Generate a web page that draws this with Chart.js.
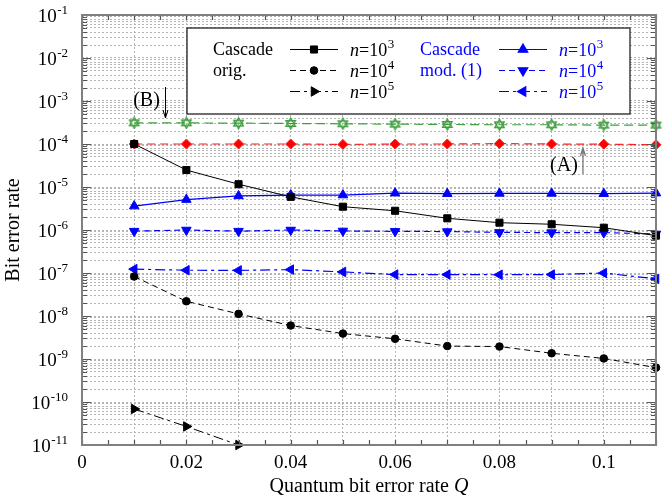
<!DOCTYPE html>
<html>
<head>
<meta charset="utf-8">
<script src="https://cdn.jsdelivr.net/npm/chart.js@4.4.0/dist/chart.umd.min.js"></script>
<style>
  html, body { margin: 0; padding: 0; background: #fff; }
</style>
</head>
<body>
<canvas id="c" width="664" height="501"></canvas>
<script>
// quantum bit error rate Q
const qber = [0.01, 0.02, 0.03, 0.04, 0.05, 0.06, 0.07, 0.08, 0.09, 0.10, 0.11];

// Cascade orig.
const origN3 = [1.0e-4, 2.48e-5, 1.16e-5, 5.9e-6, 3.48e-6, 2.8e-6, 1.87e-6, 1.48e-6, 1.36e-6, 1.13e-6, 7.4e-7];
const origN4 = [8.3e-8, 2.2e-8, 1.12e-8, 6.0e-9, 3.9e-9, 2.95e-9, 2.0e-9, 1.95e-9, 1.36e-9, 1.03e-9, 6.3e-10];
const origN5 = [6.9e-11, 2.7e-11, 1.0e-11];

// Cascade mod. (1)
const modN3 = [3.6e-6, 5.1e-6, 6.2e-6, 6.5e-6, 6.5e-6, 7.2e-6, 7.0e-6, 7.1e-6, 7.1e-6, 7.0e-6, 7.2e-6];
const modN4 = [9.4e-7, 1.0e-6, 9.4e-7, 1.0e-6, 9.5e-7, 9.3e-7, 9.2e-7, 8.8e-7, 8.7e-7, 8.7e-7, 8.1e-7];
const modN5 = [1.23e-7, 1.16e-7, 1.15e-7, 1.2e-7, 1.06e-7, 9.2e-8, 9.2e-8, 9.1e-8, 9.2e-8, 1.0e-7, 7.3e-8];

// reference curves (A) and (B)
const curveA = [1.0e-4, 1.0e-4, 1.0e-4, 1.0e-4, 9.8e-5, 1.0e-4, 1.0e-4, 1.02e-4, 1.0e-4, 9.9e-5, 9.6e-5];
const curveB = [3.1e-4, 3.1e-4, 3.05e-4, 3.0e-4, 2.95e-4, 2.9e-4, 2.85e-4, 2.8e-4, 2.8e-4, 2.75e-4, 2.75e-4];

const seriesNames = ['n=10^3', 'n=10^4', 'n=10^5'];
const xTickLabels = ['0', '0.02', '0.04', '0.06', '0.08', '0.1'];
const yExponents = [-11, -10, -9, -8, -7, -6, -5, -4, -3, -2, -1];

const serif = '"Liberation Serif", "Times New Roman", serif';
const blue = '#0000ff';

// open hexagram marker for curve (B)
function hexagram(color) {
    const c = document.createElement('canvas');
    c.width = 13; c.height = 13;
    const g = c.getContext('2d');
    g.strokeStyle = color;
    g.lineWidth = 1.3;
    const r = 5.5, cx = 6.5, cy = 6.5;
    for (const off of [-Math.PI / 2, Math.PI / 2]) {
        g.beginPath();
        for (let k = 0; k < 3; k++) {
            const a = off + k * 2 * Math.PI / 3;
            const px = cx + r * Math.cos(a), py = cy + r * Math.sin(a);
            k ? g.lineTo(px, py) : g.moveTo(px, py);
        }
        g.closePath();
        g.stroke();
    }
    return c;
}

function pts(vals) {
    return vals.map((v, i) => ({ x: qber[i], y: v }));
}

const dotted = [10, 4, 3, 4];

const datasets = [
    { label: 'orig n3', data: pts(origN3), borderColor: '#000', backgroundColor: '#000', borderWidth: 1,
      pointStyle: 'rect', pointRadius: 5, borderDash: [] },
    { label: 'orig n4', data: pts(origN4), borderColor: '#000', backgroundColor: '#000', borderWidth: 1,
      pointStyle: 'circle', pointRadius: 3.8, borderDash: [6, 4] },
    { label: 'orig n5', data: pts(origN5), borderColor: '#000', backgroundColor: '#000', borderWidth: 1,
      pointStyle: 'triangle', pointRotation: 90, pointRadius: 5.5, borderDash: dotted },
    { label: 'mod n3', data: pts(modN3), borderColor: blue, backgroundColor: blue, borderWidth: 1.2,
      pointStyle: 'triangle', pointRotation: 0, pointRadius: 5.5, borderDash: [] },
    { label: 'mod n4', data: pts(modN4), borderColor: blue, backgroundColor: blue, borderWidth: 1.2,
      pointStyle: 'triangle', pointRotation: 180, pointRadius: 5.5, borderDash: [6, 4] },
    { label: 'mod n5', data: pts(modN5), borderColor: blue, backgroundColor: blue, borderWidth: 1.2,
      pointStyle: 'triangle', pointRotation: -90, pointRadius: 5.5, borderDash: dotted },
    { label: 'A', data: pts(curveA), borderColor: '#ff2020', backgroundColor: '#ff0000', borderWidth: 1.2,
      pointStyle: 'rectRot', pointRadius: 5, borderDash: [8, 5] },
    { label: 'B', data: pts(curveB), borderColor: '#3f9f3f', backgroundColor: '#3f9f3f', borderWidth: 1.2,
      pointStyle: hexagram('#3f9f3f'), pointRadius: 6, borderDash: [9, 5] }
];
datasets.forEach(d => {
    d.clip = false;
    d.tension = 0;
    d.fill = false;
    d.pointBorderWidth = 1;
    d.pointHoverRadius = d.pointRadius;
});

// text with superscript, returns width; align 'left' or 'right'
function powText(ctx, x, y, italicPre, base, exp, size, color, align) {
    const fBase = size + 'px ' + serif;
    const fIt = 'italic ' + size + 'px ' + serif;
    const fSup = Math.round(size * 0.7) + 'px ' + serif;
    ctx.font = fIt; const wPre = italicPre ? ctx.measureText(italicPre).width : 0;
    ctx.font = fBase; const wBase = ctx.measureText(base).width;
    ctx.font = fSup; const wExp = ctx.measureText(exp).width;
    const total = wPre + wBase + wExp + 0.5;
    let cx = align === 'right' ? x - total : x;
    ctx.fillStyle = color;
    ctx.textAlign = 'left';
    ctx.textBaseline = 'alphabetic';
    if (italicPre) { ctx.font = fIt; ctx.fillText(italicPre, cx, y); cx += wPre; }
    ctx.font = fBase; ctx.fillText(base, cx, y); cx += wBase + 0.5;
    ctx.font = fSup; ctx.fillText(exp, cx, y - size * 0.42);
    return total;
}

const decor = {
    id: 'decor',
    afterDraw(chart) {
        const { ctx, chartArea: a } = chart;
        const xs = chart.scales.x, ys = chart.scales.y;
        ctx.save();

        // tick marks on all four sides, pointing inwards
        ctx.strokeStyle = '#555';
        ctx.lineWidth = 1.2;
        ctx.beginPath();
        ys.ticks.forEach(t => {
            const py = Math.round(ys.getPixelForValue(t.value)) + 0.5;
            const major = Math.abs(Math.log10(t.value) - Math.round(Math.log10(t.value))) < 1e-6;
            const len = major ? 9 : 5;
            ctx.moveTo(a.left, py); ctx.lineTo(a.left + len, py);
            ctx.moveTo(a.right, py); ctx.lineTo(a.right - len, py);
        });
        xs.ticks.forEach(t => {
            const px = Math.round(xs.getPixelForValue(t.value)) + 0.5;
            ctx.moveTo(px, a.bottom); ctx.lineTo(px, a.bottom - 5);
            ctx.moveTo(px, a.top); ctx.lineTo(px, a.top + 5);
        });
        ctx.stroke();

        // frame
        ctx.strokeStyle = '#808080';
        ctx.lineWidth = 2;
        ctx.strokeRect(a.left, a.top, a.right - a.left, a.bottom - a.top);

        // y tick labels 10^k
        yExponents.forEach(e => {
            const py = ys.getPixelForValue(Math.pow(10, e));
            powText(ctx, 68, py + 6.5, '', '10', String(e), 19, '#000', 'right');
        });

        // axis titles
        ctx.fillStyle = '#000';
        ctx.textBaseline = 'alphabetic';
        ctx.font = '20px ' + serif;
        const t1 = 'Quantum bit error rate ';
        const w1 = ctx.measureText(t1).width;
        ctx.font = 'italic 20px ' + serif;
        const w2 = ctx.measureText('Q').width;
        const sx = (a.left + a.right) / 2 - (w1 + w2) / 2;
        ctx.font = '20px ' + serif;
        ctx.textAlign = 'left';
        ctx.fillText(t1, sx, 492);
        ctx.font = 'italic 20px ' + serif;
        ctx.fillText('Q', sx + w1, 492);

        ctx.save();
        ctx.translate(19, (a.top + a.bottom) / 2);
        ctx.rotate(-Math.PI / 2);
        ctx.font = '20px ' + serif;
        ctx.textAlign = 'center';
        ctx.fillText('Bit error rate', 0, 0);
        ctx.restore();

        // annotations (A) and (B)
        ctx.font = '20px ' + serif;
        ctx.textAlign = 'center';
        ctx.fillStyle = '#000';
        const bx = xs.getPixelForValue(0.016);
        ctx.fillText('(B)', bx - 19, 106);
        ctx.strokeStyle = '#000';
        ctx.lineWidth = 1;
        ctx.beginPath();
        ctx.moveTo(bx, 87); ctx.lineTo(bx, 118);
        ctx.moveTo(bx - 2.5, 110); ctx.lineTo(bx, 118); ctx.lineTo(bx + 2.5, 110);
        ctx.stroke();

        const ax = xs.getPixelForValue(0.096);
        ctx.fillText('(A)', ax - 19, 171);
        ctx.strokeStyle = '#777';
        ctx.lineWidth = 1.3;
        ctx.beginPath();
        ctx.moveTo(ax, 174); ctx.lineTo(ax, 148);
        ctx.moveTo(ax - 2.5, 156); ctx.lineTo(ax, 148); ctx.lineTo(ax + 2.5, 156);
        ctx.stroke();

        // legend box
        ctx.fillStyle = '#fff';
        ctx.fillRect(187, 28, 443, 86);
        ctx.strokeStyle = '#222';
        ctx.lineWidth = 1.3;
        ctx.strokeRect(187, 28, 443, 86);

        const rows = [49, 70, 91];
        ctx.font = '18px ' + serif;
        ctx.textAlign = 'left';
        ctx.fillStyle = '#000';
        ctx.fillText('Cascade', 213, rows[0] + 6);
        ctx.fillText('orig.', 213, rows[1] + 6);
        ctx.fillStyle = blue;
        ctx.fillText('Cascade', 420, rows[0] + 6);
        ctx.fillText('mod. (1)', 420, rows[1] + 6);

        const groups = [{ x1: 290, x2: 338, lx: 350, color: '#000', start: 0 },
                        { x1: 499, x2: 547, lx: 559, color: blue, start: 3 }];
        groups.forEach(gr => {
            for (let k = 0; k < 3; k++) {
                const ds = chart.data.datasets[gr.start + k];
                const yy = rows[k] + 0.5;
                ctx.strokeStyle = ds.borderColor;
                ctx.lineWidth = ds.borderWidth;
                ctx.setLineDash(ds.borderDash);
                ctx.beginPath();
                ctx.moveTo(gr.x1, yy); ctx.lineTo(gr.x2, yy);
                ctx.stroke();
                ctx.setLineDash([]);
                ctx.fillStyle = ds.backgroundColor;
                Chart.helpers.drawPoint(ctx, {
                    pointStyle: ds.pointStyle, rotation: ds.pointRotation || 0,
                    radius: ds.pointRadius, borderWidth: 1
                }, (gr.x1 + gr.x2) / 2, yy);
                const nm = seriesNames[k].split('^');
                powText(ctx, gr.lx, rows[k] + 6.5, 'n', nm[0].slice(1), nm[1], 18, gr.color, 'left');
            }
        });

        ctx.restore();
    }
};

new Chart(document.getElementById('c'), {
    type: 'line',
    data: { datasets },
    options: {
        responsive: false,
        animation: false,
        devicePixelRatio: 1,
        layout: { padding: { top: 15, right: 8, left: 0, bottom: 0 } },
        plugins: { legend: { display: false }, tooltip: { enabled: false } },
        scales: {
            x: {
                type: 'linear',
                min: 0,
                max: 0.11,
                afterBuildTicks: s => {
                    s.ticks = [];
                    for (let i = 0; i <= 22; i++) s.ticks.push({ value: i * 0.005 });
                },
                afterFit: s => { s.height = 56; },
                ticks: {
                    autoSkip: false,
                    maxRotation: 0,
                    padding: 7,
                    color: '#000',
                    font: { family: serif, size: 19 },
                    callback: (v, i) => (i % 4 === 0 ? xTickLabels[i / 4] : '')
                },
                grid: {
                    drawTicks: false,
                    lineWidth: 1,
                    color: c => (c.index % 2 === 0 && c.index > 0 && c.index < 22) ? '#b4b4b4' : 'rgba(0,0,0,0)'
                },
                border: { display: false, dash: [2, 2] }
            },
            y: {
                type: 'logarithmic',
                min: 1e-11,
                max: 1e-1,
                afterBuildTicks: s => {
                    s.ticks = [];
                    for (let e = -11; e < -1; e++) {
                        for (let m = 1; m <= 9; m++) s.ticks.push({ value: m * Math.pow(10, e) });
                    }
                    s.ticks.push({ value: 0.1 });
                },
                afterFit: s => { s.width = 82; },
                ticks: { display: false },
                grid: {
                    drawTicks: false,
                    lineWidth: 1,
                    color: c => (c.index > 0 && c.index < 90) ? '#b4b4b4' : 'rgba(0,0,0,0)'
                },
                border: { display: false, dash: [2, 2] }
            }
        }
    },
    plugins: [decor]
});
</script>
</body>
</html>
